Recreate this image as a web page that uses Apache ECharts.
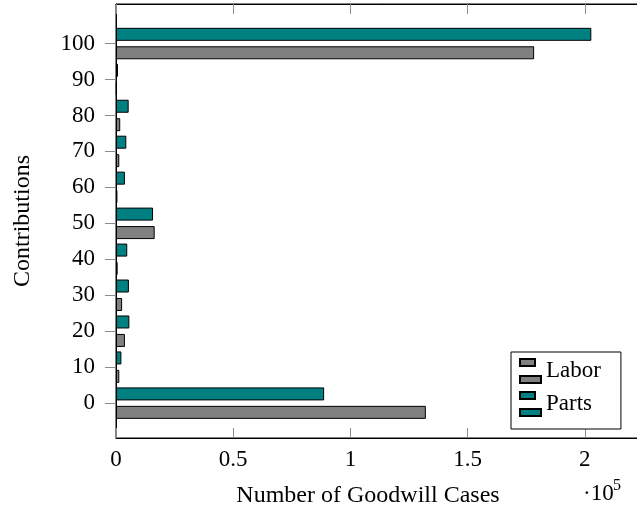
<!DOCTYPE html>
<html>
<head>
<meta charset="utf-8">
<script src="https://cdn.jsdelivr.net/npm/echarts@6/dist/echarts.min.js"></script>
<style>
  html, body { margin: 0; padding: 0; background: #fff; }
  #chart { width: 637px; height: 512px; }
</style>
</head>
<body>
<div id="chart"></div>
<script>
// Goodwill cases per contribution level, split into labor and parts
const categories = [0, 10, 20, 30, 40, 50, 60, 70, 80, 90, 100];
const labor = [132200, 1400, 3800, 2600, 700, 16500, 600, 1400, 1800, 300, 178400];
const parts = [88800, 2300, 5700, 5500, 4800, 15800, 3800, 4400, 5400, 850, 202800];
const xTicks = [0, 50000, 100000, 150000, 200000];
const yTicks = [0, 10, 20, 30, 40, 50, 60, 70, 80, 90, 100];

const FONT = 'Liberation Serif';
const TICK_COLOR = '#8c8c8c';

// frame geometry and axis ranges
const frame = { left: 116, top: 4, width: 525, height: 434 };
const xMax = 224000;
const yMin = -9.7, yMax = 111;

// the bar grid covers exactly the category bands (each 10 units tall)
const pxPerUnit = frame.height / (yMax - yMin);
const bandTop = frame.top + (yMax - (categories[categories.length - 1] + 5)) * pxPerUnit;
const bandBottom = frame.top + (yMax - (categories[0] - 5)) * pxPerUnit;

const chart = echarts.init(document.getElementById('chart'), null, { renderer: 'canvas' });

chart.setOption({
  animation: false,
  backgroundColor: '#fff',
  textStyle: { fontFamily: FONT },
  grid: [
    { left: frame.left, top: frame.top, width: frame.width, height: frame.height,
      outerBoundsMode: 'none', containLabel: false,
      show: true, borderColor: '#000', borderWidth: 1, backgroundColor: 'transparent' },
    { left: frame.left, top: bandTop, width: frame.width, height: bandBottom - bandTop,
      outerBoundsMode: 'none', containLabel: false, show: false }
  ],
  xAxis: [
    { type: 'value', gridIndex: 0, min: 0, max: xMax, position: 'bottom',
      axisLine: { show: true, onZero: false, lineStyle: { color: '#000', width: 1 } },
      axisTick: { show: true, inside: true, length: 10, customValues: xTicks,
                  lineStyle: { color: TICK_COLOR, width: 1 } },
      axisLabel: { show: true, customValues: xTicks, margin: 10, color: '#000',
                   fontFamily: FONT, fontSize: 23,
                   formatter: v => String(v / 100000) },
      splitLine: { show: false } },
    { type: 'value', gridIndex: 0, min: 0, max: xMax, position: 'top',
      axisLine: { show: true, onZero: false, lineStyle: { color: '#000', width: 1 } },
      axisTick: { show: true, inside: true, length: 10, customValues: xTicks,
                  lineStyle: { color: TICK_COLOR, width: 1 } },
      axisLabel: { show: false },
      splitLine: { show: false } },
    { type: 'value', gridIndex: 1, min: 0, max: xMax, show: false,
      axisLine: { onZero: false },
      splitLine: { show: false } }
  ],
  yAxis: [
    { type: 'value', gridIndex: 0, min: yMin, max: yMax,
      axisLine: { show: true, onZero: false, lineStyle: { color: '#000', width: 1 } },
      axisTick: { show: true, inside: false, length: 11, customValues: yTicks,
                  lineStyle: { color: TICK_COLOR, width: 1 } },
      axisLabel: { show: true, customValues: yTicks, margin: 21, color: '#000',
                   fontFamily: FONT, fontSize: 23 },
      splitLine: { show: false } },
    { type: 'category', gridIndex: 1, data: categories.map(String), show: false,
      boundaryGap: true }
  ],
  legend: {
    data: ['Labor', 'Parts'],
    orient: 'vertical',
    left: 511, top: 352,
    padding: [6, 20, 12, 8],
    itemWidth: 21, itemHeight: 24, itemGap: 7,
    icon: 'path://M0,0h15v7h-15zM0,17h21v7h-21z',
    backgroundColor: '#fff',
    borderColor: '#000', borderWidth: 1, borderRadius: 0,
    textStyle: { fontFamily: FONT, fontSize: 23, color: '#000' },
    selectedMode: false
  },
  graphic: [
    { type: 'text',
      style: { text: 'Number of Goodwill Cases', x: 368, y: 496,
               align: 'center', verticalAlign: 'middle',
               font: '24px "Liberation Serif"', fill: '#000' } },
    { type: 'text',
      style: { text: '·10', x: 583, y: 494, align: 'left', verticalAlign: 'middle',
               font: '23px "Liberation Serif"', fill: '#000' } },
    { type: 'text',
      style: { text: '5', x: 613, y: 486, align: 'left', verticalAlign: 'middle',
               font: '16px "Liberation Serif"', fill: '#000' } },
    { type: 'text', rotation: Math.PI / 2, x: 23, y: 221,
      style: { text: 'Contributions', x: 0, y: 0, align: 'center', verticalAlign: 'middle',
               font: '24px "Liberation Serif"', fill: '#000' } }
  ],
  series: [
    { name: 'Parts', type: 'bar', xAxisIndex: 2, yAxisIndex: 1,
      data: parts, barWidth: 13, barGap: '42%',
      itemStyle: { color: '#008080', borderColor: '#000', borderWidth: 1 } },
    { name: 'Labor', type: 'bar', xAxisIndex: 2, yAxisIndex: 1,
      data: labor, barWidth: 13, barGap: '42%',
      itemStyle: { color: '#808080', borderColor: '#000', borderWidth: 1 } }
  ]
});
</script>
</body>
</html>
